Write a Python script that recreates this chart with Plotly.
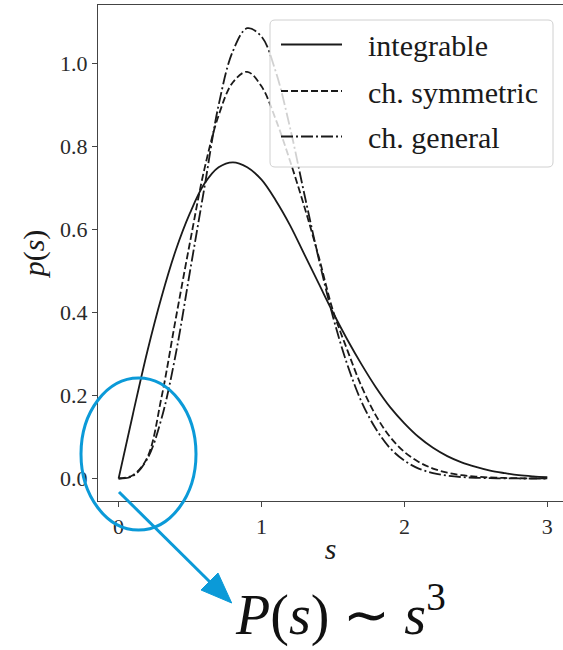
import plotly.graph_objects as go

# ---------------- data ----------------
s = [0.0, 0.1, 0.2, 0.3, 0.4, 0.5, 0.6, 0.7, 0.8, 0.9, 1.0,
     1.1, 1.2, 1.3, 1.4, 1.5, 1.6, 1.7, 1.8, 1.9, 2.0,
     2.1, 2.2, 2.3, 2.4, 2.5, 2.6, 2.7, 2.8, 2.9, 3.0]

integrable = [0.0, 0.155, 0.305, 0.437, 0.55, 0.64, 0.71, 0.75, 0.762, 0.75, 0.72,
              0.67, 0.61, 0.54, 0.47, 0.40, 0.335, 0.275, 0.22, 0.172, 0.133,
              0.10, 0.074, 0.054, 0.039, 0.028, 0.019, 0.013, 0.008, 0.005, 0.003]

symmetric = [0.0, 0.008, 0.05, 0.195, 0.385, 0.57, 0.745, 0.875, 0.955, 0.98, 0.945,
             0.865, 0.765, 0.655, 0.535, 0.405, 0.31, 0.222, 0.152, 0.10, 0.064,
             0.040, 0.024, 0.014, 0.008, 0.0045, 0.0025, 0.0013, 0.0007, 0.0003, 0.0001]

general = [0.0, 0.006, 0.047, 0.144, 0.30, 0.50, 0.70, 0.90, 1.03, 1.085, 1.065,
           0.98, 0.845, 0.685, 0.53, 0.39, 0.275, 0.185, 0.12, 0.073, 0.043,
           0.024, 0.013, 0.007, 0.0035, 0.0017, 0.0008, 0.0003, 0.0001, 0.0, 0.0]

series_names = ["integrable", "ch. symmetric", "ch. general"]
x_tick_vals = [0, 1, 2, 3]
x_tick_text = ["0", "1", "2", "3"]
y_tick_vals = [0.0, 0.2, 0.4, 0.6, 0.8, 1.0]
y_tick_text = ["0.0", "0.2", "0.4", "0.6", "0.8", "1.0"]
x_label = "<i>s</i>"
y_label = "<i>p</i>(<i>s</i>)"
note_text = "<i>P</i>(<i>s</i>) \u223c <i>s</i><sup>3</sup>"

# ---------------- layout geometry ----------------
W, H = 563, 650
L, R, T, B = 98, 0, 5, 149
PW, PH = W - L - R, H - T - B


def fx(x):
    return (x - L) / PW


def fy(y):
    return (H - B - y) / PH


FONT = "Liberation Serif, Times New Roman, serif"
INK = "#1a1a1a"
AXC = "#444444"
BLUE = "#0b9ad8"
dash_styles = ["solid", "7px,3px", "12px,3px,2px,3px"]

fig = go.Figure()
for name, ys, dash in zip(series_names, [integrable, symmetric, general], dash_styles):
    fig.add_trace(go.Scatter(
        x=s, y=ys, mode="lines", name=name, showlegend=False,
        line=dict(color=INK, width=1.8, dash=dash, shape="spline", smoothing=1.0),
        hoverinfo="skip"))

shapes = []
annotations = []

# legend box (semi-transparent, rounded)
x0, x1, y0, y1, r = 270, 553, 20, 167, 5
path = (f"M {fx(x0 + r)},{fy(y0)} L {fx(x1 - r)},{fy(y0)} "
        f"Q {fx(x1)},{fy(y0)} {fx(x1)},{fy(y0 + r)} L {fx(x1)},{fy(y1 - r)} "
        f"Q {fx(x1)},{fy(y1)} {fx(x1 - r)},{fy(y1)} L {fx(x0 + r)},{fy(y1)} "
        f"Q {fx(x0)},{fy(y1)} {fx(x0)},{fy(y1 - r)} L {fx(x0)},{fy(y0 + r)} "
        f"Q {fx(x0)},{fy(y0)} {fx(x0 + r)},{fy(y0)} Z")
shapes.append(dict(type="path", path=path, xref="paper", yref="paper", layer="above",
                   fillcolor="rgba(255,255,255,0.8)", line=dict(color="#d0d0d0", width=1)))
for name, dash, ly in zip(series_names, dash_styles, [44.5, 91, 136.5]):
    shapes.append(dict(type="line", xref="paper", yref="paper", layer="above",
                       x0=fx(281), x1=fx(342), y0=fy(ly), y1=fy(ly),
                       line=dict(color=INK, width=1.8, dash=dash)))
    annotations.append(dict(text=name, xref="paper", yref="paper", x=fx(366), y=fy(ly + 1),
                            xanchor="left", yanchor="middle", showarrow=False,
                            font=dict(family=FONT, size=30, color=INK)))

# blue ellipse + arrow + note
shapes.append(dict(type="circle", xref="paper", yref="paper", layer="above",
                   x0=fx(81), x1=fx(196), y0=fy(530), y1=fy(378),
                   line=dict(color=BLUE, width=3)))
shapes.append(dict(type="line", xref="paper", yref="paper", layer="above",
                   x0=fx(119), y0=fy(492), x1=fx(212), y1=fy(584),
                   line=dict(color=BLUE, width=3)))
tri = (f"M {fx(231.7)},{fy(603)} L {fx(201)},{fy(590)} L {fx(218)},{fy(573)} Z")
shapes.append(dict(type="path", path=tri, xref="paper", yref="paper", layer="above",
                   fillcolor=BLUE, line=dict(color=BLUE, width=1)))
annotations.append(dict(text=note_text, xref="paper", yref="paper", x=fx(233), y=fy(649),
                        xanchor="left", yanchor="bottom", showarrow=False,
                        font=dict(family=FONT, size=56, color="#111111")))

fig.update_layout(
    width=W, height=H, autosize=False,
    margin=dict(l=L, r=R, t=T, b=B, pad=0),
    paper_bgcolor="white", plot_bgcolor="white",
    font=dict(family=FONT, color="#2a2a2a"),
    shapes=shapes, annotations=annotations,
    showlegend=False,
)
fig.update_xaxes(
    range=[-0.1442, 3.1099], tickvals=x_tick_vals, ticktext=x_tick_text,
    ticks="outside", ticklen=5, tickwidth=1.2, tickcolor=AXC,
    showline=True, linecolor=AXC, linewidth=1.3, mirror=True,
    showgrid=False, zeroline=False,
    tickfont=dict(family=FONT, size=22, color="#2a2a2a"),
    title=dict(text=x_label, font=dict(family=FONT, size=30, color=INK), standoff=0),
)
fig.update_yaxes(
    range=[-0.0542, 1.1410], tickvals=y_tick_vals, ticktext=y_tick_text,
    ticks="outside", ticklen=5, tickwidth=1.2, tickcolor=AXC,
    showline=True, linecolor=AXC, linewidth=1.3, mirror=False,
    showgrid=False, zeroline=False,
    tickfont=dict(family=FONT, size=22, color="#2a2a2a"),
    title=dict(text=y_label, font=dict(family=FONT, size=30, color=INK), standoff=6),
)

fig.write_html("out.html")
